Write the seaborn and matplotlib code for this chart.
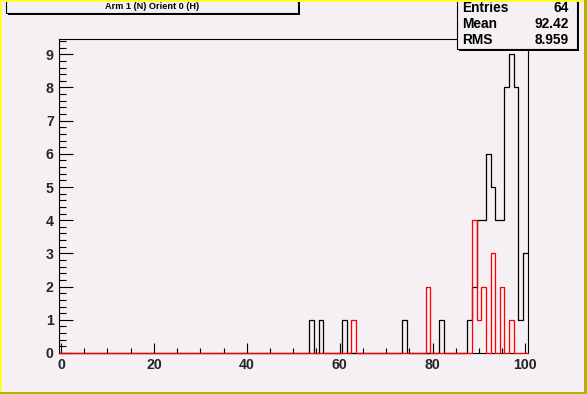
import numpy as np
import pandas as pd
import matplotlib
matplotlib.use("Agg")
import matplotlib.pyplot as plt
from matplotlib.patches import Rectangle
from matplotlib.ticker import MultipleLocator
import seaborn as sns

# ---- data (bin centers and counts) ----
black_x = [54, 56, 61, 74, 82, 88, 89, 90, 91, 92, 93, 94, 95, 96, 97, 98, 99, 100]
black_n = [1, 1, 1, 1, 1, 1, 2, 4, 4, 6, 5, 4, 4, 8, 9, 8, 1, 3]
red_x = [63, 79, 89, 90, 91, 93, 95, 97]
red_n = [1, 2, 4, 1, 2, 3, 2, 1]
title_text = "Arm 1 (N) Orient 0 (H)"
stats_labels = ["Entries", "Mean", "RMS"]
stats_values = ["64", "92.42", "8.959"]
x_ticks = [0, 20, 40, 60, 80, 100]
y_ticks = [0, 1, 2, 3, 4, 5, 6, 7, 8, 9]

W, H = 587, 394
BG = "#f4f0f4"

sns.set_theme(style="white")
plt.rcParams["font.family"] = ["Liberation Sans", "DejaVu Sans"]
plt.rcParams["font.weight"] = "bold"

fig = plt.figure(figsize=(W / 100, H / 100), dpi=100)
fig.patch.set_facecolor(BG)

def fx(px):
    return px / W

def fy(py):
    return 1 - py / H

ax = fig.add_axes([fx(58.7), fy(353), fx(527.7) - fx(58.7), fy(39.3) - fy(353)])
ax.set_facecolor(BG)

bins = [b - 0.5 for b in range(0, 102)]
df_b = pd.DataFrame({"x": black_x, "n": black_n})
df_r = pd.DataFrame({"x": red_x, "n": red_n})

sns.histplot(data=df_b, x="x", weights="n", bins=bins, element="step", fill=False,
             color="black", linewidth=0.9, ax=ax, zorder=3, clip_on=False)
sns.histplot(data=df_r, x="x", weights="n", bins=bins, element="step", fill=False,
             color="red", linewidth=0.9, ax=ax, zorder=4, clip_on=False)

ax.set_xlim(-0.5, 100.5)
ax.set_ylim(0, 9.45)
ax.set_xlabel("")
ax.set_ylabel("")
ax.set_xticks(x_ticks)
ax.set_yticks(y_ticks)
ax.xaxis.set_minor_locator(MultipleLocator(5))
ax.yaxis.set_minor_locator(MultipleLocator(0.2))
ax.tick_params(axis="x", which="major", direction="in", length=7, width=0.8, color="black",
               labelsize=10.2, pad=3.5, bottom=True, top=False)
ax.tick_params(axis="x", which="minor", direction="in", length=3.5, width=0.8, color="black",
               bottom=True, top=False)
ax.tick_params(axis="y", which="major", direction="in", length=10, width=0.8, color="black",
               labelsize=10.2, pad=3.5, left=True, right=False)
ax.tick_params(axis="y", which="minor", direction="in", length=5, width=0.8, color="black",
               left=True, right=False)
for lab in ax.get_xticklabels() + ax.get_yticklabels():
    lab.set_fontweight("bold")
for s in ax.spines.values():
    s.set_color("black")
    s.set_linewidth(0.8)
    s.set_zorder(2)
ax.grid(False)

# ---- title box ----
shadow = dict(transform=fig.transFigure, facecolor="black", edgecolor="none", zorder=5)
fig.add_artist(Rectangle((fx(7.5), fy(15.3)), fx(299.5) - fx(7.5), fy(-5) - fy(15.3), **shadow))
fig.add_artist(Rectangle((fx(5.5), fy(13.3)), fx(297.5) - fx(5.5), fy(-5) - fy(13.3),
                         transform=fig.transFigure, facecolor=BG, edgecolor="black",
                         linewidth=0.8, zorder=6))
fig.text(fx(152), fy(6.3), title_text, ha="center", va="center", fontsize=6.6,
         fontweight="bold", color="black", zorder=7)

# ---- stats box ----
fig.add_artist(Rectangle((fx(459.3), fy(51.3)), fx(578.7) - fx(459.3), fy(-5) - fy(51.3), **shadow))
fig.add_artist(Rectangle((fx(457.3), fy(49.3)), fx(576.7) - fx(457.3), fy(-5) - fy(49.3),
                         transform=fig.transFigure, facecolor=BG, edgecolor="black",
                         linewidth=0.8, zorder=6))
rows_y = [8.0, 24.3, 40.4]
for lab, val, yy in zip(stats_labels, stats_values, rows_y):
    fig.text(fx(462.5), fy(yy), lab, ha="left", va="center", fontsize=9.9,
             fontweight="bold", color="black", zorder=7)
    fig.text(fx(568.5), fy(yy), val, ha="right", va="center", fontsize=9.9,
             fontweight="bold", color="black", zorder=7)

# ---- canvas bevel border ----
fig.add_artist(Rectangle((0, 0), fx(2.3), 1, transform=fig.transFigure,
                         facecolor="#ffff30", edgecolor="none", zorder=10))
fig.add_artist(Rectangle((0, fy(2)), 1, fy(0) - fy(2), transform=fig.transFigure,
                         facecolor="#ffff30", edgecolor="none", zorder=10))
fig.add_artist(Rectangle((fx(583.5), 0), 1 - fx(583.5), 1, transform=fig.transFigure,
                         facecolor="#b4b400", edgecolor="none", zorder=11))
fig.add_artist(Rectangle((0, 0), 1, fy(391.5), transform=fig.transFigure,
                         facecolor="#b4b400", edgecolor="none", zorder=11))

fig.savefig("out.png", dpi=100, facecolor=BG)
